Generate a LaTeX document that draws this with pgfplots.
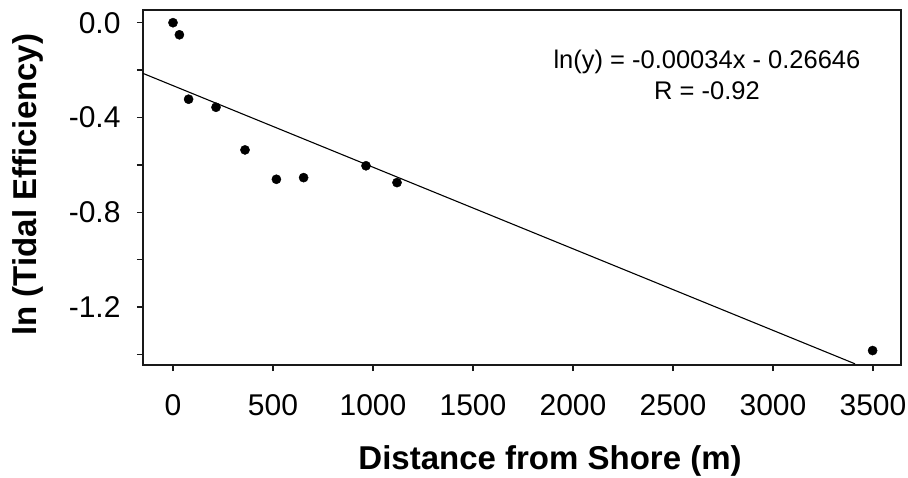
\documentclass[border=0pt]{standalone}
\usepackage{pgfplots}
\pgfplotsset{compat=1.18}
\usepackage{fontspec}
\setmainfont{Liberation Sans}
\begin{document}
\begin{tikzpicture}[x=1pt,y=1pt]
\begin{axis}[
  at={(143pt,112pt)}, anchor=south west,
  scale only axis, width=758pt, height=355pt,
  xmin=-150, xmax=3640, ymin=-1.445, ymax=0.0536,
  axis line style={line width=1.6pt, color=black!90},
  tick style={line width=1.4pt, color=black!90},
  tick align=outside, major tick length=6pt,
  xtick={0,500,1000,1500,2000,2500,3000,3500},
  xticklabels={0,500,1000,1500,2000,2500,3000,3500},
  ytick={-1.4,-1.2,-1.0,-0.8,-0.6,-0.4,-0.2,0},
  yticklabels={,-1.2,,-0.8,,-0.4,,0.0},
  xtick pos=bottom, ytick pos=left,
  ticklabel style={font=\fontsize{30}{36}\selectfont},
  xticklabel style={yshift=-20pt},
  yticklabel style={xshift=-13pt},
  xlabel={Distance from Shore (m)},
  ylabel={ln (Tidal Efficiency)},
  label style={font=\bfseries\fontsize{33}{40}\selectfont},
  xlabel style={at={(axis description cs:0.537,-0.294)}, anchor=base},
  ylabel style={at={(axis description cs:-0.141,0.508)}, anchor=base},
]
% fitted regression line
\addplot[black, line width=1.1pt, no marks] coordinates {(-150,-0.214) (3410,-1.440)};
% observations
\addplot[only marks, mark=*, mark size=4.6pt, black] coordinates {
  (0,0.0) (32,-0.051) (78,-0.323) (215,-0.357) (360,-0.537)
  (517,-0.661) (653,-0.654) (965,-0.604) (1120,-0.675) (3498,-1.384)
};
\node[anchor=base, font=\fontsize{25.5}{30}\selectfont] at (rel axis cs:0.744,0.834) {ln(y) = -0.00034x - 0.26646};
\node[anchor=base, font=\fontsize{25.5}{30}\selectfont] at (rel axis cs:0.744,0.749) {R = -0.92};
\end{axis}
\pgfresetboundingbox
\path[use as bounding box] (0,0) rectangle (908,477);
\end{tikzpicture}
\end{document}
